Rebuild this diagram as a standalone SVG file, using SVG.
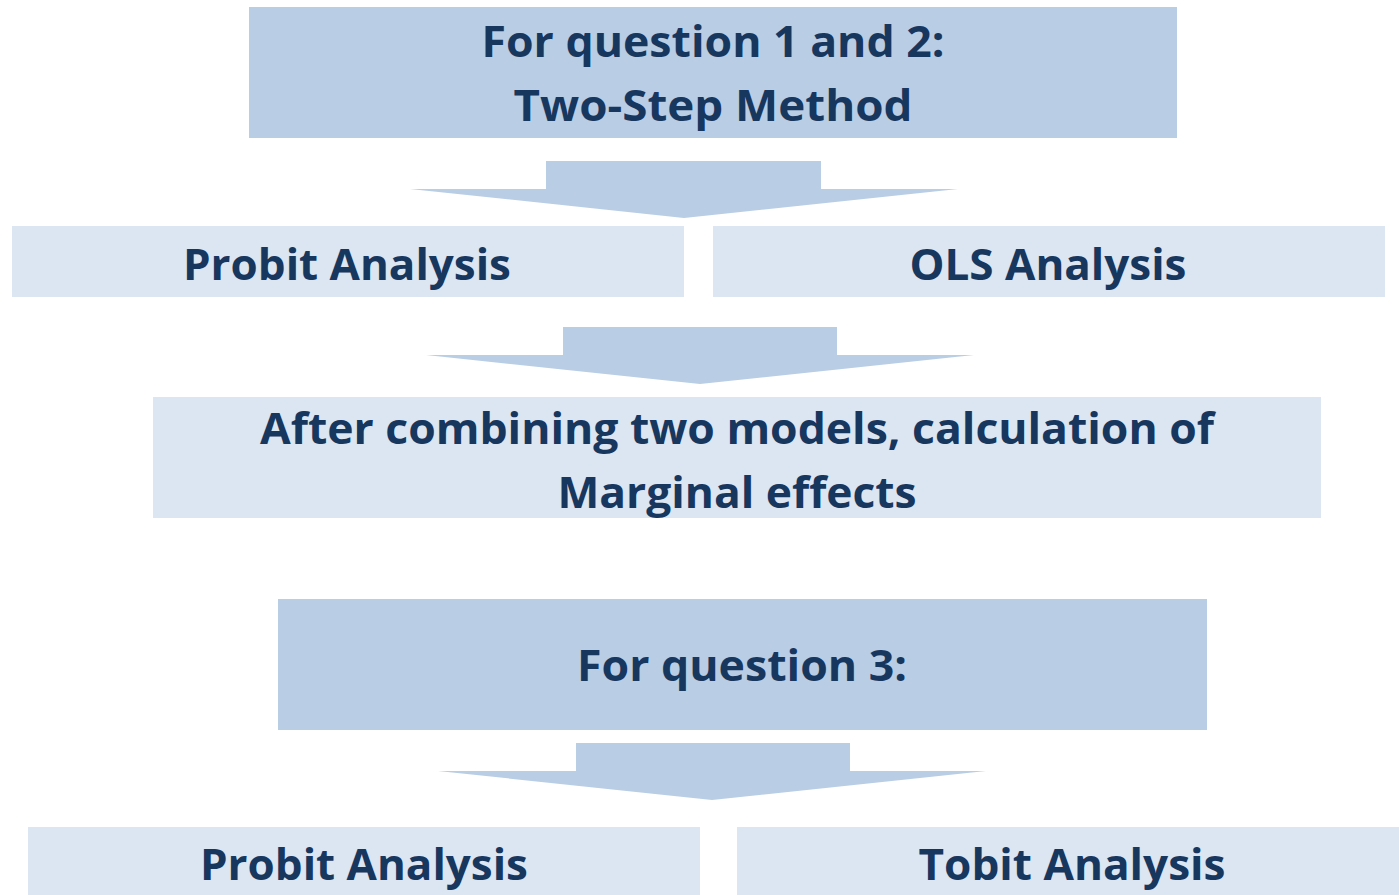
<svg xmlns="http://www.w3.org/2000/svg" width="1399" height="895" viewBox="0 0 1399 895">
<style>
.dark{fill:#B9CDE5}
.light{fill:#DCE6F2}
.arrow{fill:#B9CDE5}
text{font-family:"Open Sans","Liberation Sans",sans-serif;font-weight:bold;font-size:43px;fill:#17375E;text-anchor:middle}
</style>
<rect width="1399" height="895" fill="#FFFFFF"/>
<g id="connectors">
<polygon class="arrow" points="546,161 821,161 821,189 958,189 684,218 410,189 546,189"/>
<polygon class="arrow" points="563,327 837,327 837,355 974,355 700,384 426,355 563,355"/>
<polygon class="arrow" points="576,743 850,743 850,771 986,771 712,800 438,771 576,771"/>
</g>
<g id="node-q12">
<rect class="dark" x="249" y="7" width="928" height="131"/>
<text x="713" y="57" textLength="463" lengthAdjust="spacingAndGlyphs">For question 1 and 2:</text>
<text x="713" y="121" textLength="399" lengthAdjust="spacingAndGlyphs">Two-Step Method</text>
</g>
<g id="node-probit1">
<rect class="light" x="12" y="226" width="672" height="71"/>
<text x="347" y="280" textLength="328" lengthAdjust="spacingAndGlyphs">Probit Analysis</text>
</g>
<g id="node-ols">
<rect class="light" x="713" y="226" width="672" height="71"/>
<text x="1048" y="280" textLength="277" lengthAdjust="spacingAndGlyphs">OLS Analysis</text>
</g>
<g id="node-combine">
<rect class="light" x="153" y="397" width="1168" height="121"/>
<text x="737" y="444" textLength="954" lengthAdjust="spacingAndGlyphs">After combining two models, calculation of</text>
<text x="737" y="508" textLength="359" lengthAdjust="spacingAndGlyphs">Marginal effects</text>
</g>
<g id="node-q3">
<rect class="dark" x="278" y="599" width="929" height="131"/>
<text x="742" y="681" textLength="330" lengthAdjust="spacingAndGlyphs">For question 3:</text>
</g>
<g id="node-probit2">
<rect class="light" x="28" y="827" width="672" height="68"/>
<text x="364" y="880" textLength="328" lengthAdjust="spacingAndGlyphs">Probit Analysis</text>
</g>
<g id="node-tobit">
<rect class="light" x="737" y="827" width="662" height="68"/>
<text x="1072" y="880" textLength="307" lengthAdjust="spacingAndGlyphs">Tobit Analysis</text>
</g>
</svg>
